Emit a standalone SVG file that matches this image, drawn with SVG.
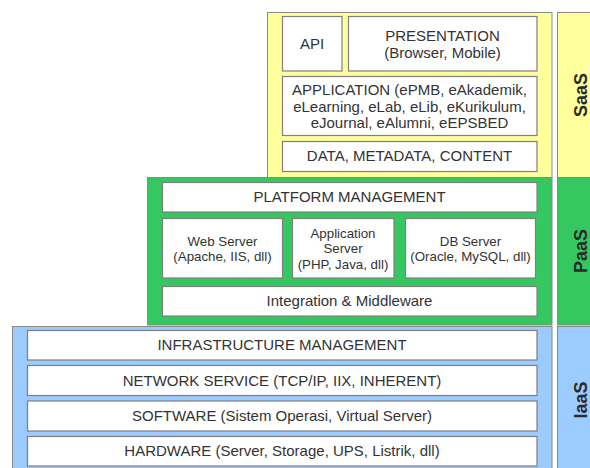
<svg xmlns="http://www.w3.org/2000/svg" width="590" height="468" viewBox="0 0 590 468">
<style>
.panel{stroke:#8a8a8a;stroke-width:1}
.saas{fill:#ffff9e}
.paas{fill:#36c860}
.iaas{fill:#9ccbff}
.box{fill:#ffffff;stroke:#7f7f7f;stroke-width:1.2}
text{font-family:"Liberation Sans",Arial,sans-serif;fill:#333333;text-anchor:middle}
.t{font-size:15px}
.s{font-size:13.3px}
.lbl{font-size:18px;font-weight:bold;fill:#2a2a2a}
</style>
<rect width="590" height="468" fill="#ffffff"/>
<g id="layer-panels">
<rect class="panel saas" x="267.5" y="12.5" width="284.5" height="165"/>
<rect class="panel paas" x="147.5" y="177.5" width="404.5" height="147.5"/>
<rect class="panel iaas" x="12.5" y="326.5" width="539.5" height="150"/>
</g>
<g id="label-saas">
<rect class="panel saas" x="557.5" y="12.5" width="40" height="165"/>
<text class="lbl" transform="translate(587,95) rotate(-90)">SaaS</text>
</g>
<g id="label-paas">
<rect class="panel paas" x="557.5" y="177.5" width="40" height="147.5"/>
<text class="lbl" transform="translate(587,251) rotate(-90)">PaaS</text>
</g>
<g id="label-iaas">
<rect class="panel iaas" x="557.5" y="326.5" width="40" height="150"/>
<text class="lbl" transform="translate(587,400) rotate(-90)">IaaS</text>
</g>
<g id="api">
<rect class="box" x="282.5" y="16.5" width="59.5" height="54.5"/>
<text class="t" x="312" y="49">API</text>
</g>
<g id="presentation">
<rect class="box" x="348.5" y="16.5" width="188.5" height="54.5"/>
<text class="t" x="442.5" y="41">PRESENTATION</text>
<text class="t" x="442.5" y="58">(Browser, Mobile)</text>
</g>
<g id="application">
<rect class="box" x="282.5" y="76.5" width="254.5" height="59"/>
<text class="t" x="409.5" y="95">APPLICATION (ePMB, eAkademik,</text>
<text class="t" x="409.5" y="111.5">eLearning, eLab, eLib, eKurikulum,</text>
<text class="t" x="409.5" y="128">eJournal, eAlumni, eEPSBED</text>
</g>
<g id="data">
<rect class="box" x="282.5" y="141.5" width="254.5" height="30"/>
<text class="t" x="409.5" y="161">DATA, METADATA, CONTENT</text>
</g>
<g id="platform-management">
<rect class="box" x="162.5" y="182.5" width="374.5" height="29.5"/>
<text class="t" x="349.5" y="202">PLATFORM MANAGEMENT</text>
</g>
<g id="web-server">
<rect class="box" x="162.5" y="218.5" width="120" height="59.5"/>
<text class="s" x="222.5" y="245.5">Web Server</text>
<text class="s" x="222.5" y="260.5">(Apache, IIS, dll)</text>
</g>
<g id="application-server">
<rect class="box" x="292.5" y="218.5" width="101.5" height="59.5"/>
<text class="s" x="343" y="237.5">Application</text>
<text class="s" x="343" y="253">Server</text>
<text class="s" x="343" y="268.5">(PHP, Java, dll)</text>
</g>
<g id="db-server">
<rect class="box" x="405.5" y="218.5" width="130" height="59.5"/>
<text class="s" x="470.5" y="245.5">DB Server</text>
<text class="s" x="470.5" y="260.5">(Oracle, MySQL, dll)</text>
</g>
<g id="integration">
<rect class="box" x="162.5" y="286.5" width="374.5" height="29.5"/>
<text class="t" x="349.5" y="306">Integration &amp; Middleware</text>
</g>
<g id="infrastructure-management">
<rect class="box" x="27.5" y="330.5" width="509.5" height="29.5"/>
<text class="t" x="282" y="350">INFRASTRUCTURE MANAGEMENT</text>
</g>
<g id="network-service">
<rect class="box" x="27.5" y="365.5" width="509.5" height="30"/>
<text class="t" x="282" y="385.5">NETWORK SERVICE (TCP/IP, IIX, INHERENT)</text>
</g>
<g id="software">
<rect class="box" x="27.5" y="401" width="509.5" height="30"/>
<text class="t" x="282" y="421">SOFTWARE (Sistem Operasi, Virtual Server)</text>
</g>
<g id="hardware">
<rect class="box" x="27.5" y="436.5" width="509.5" height="29.5"/>
<text class="t" x="282" y="456">HARDWARE (Server, Storage, UPS, Listrik, dll)</text>
</g>
<g id="connectors"></g>
</svg>
